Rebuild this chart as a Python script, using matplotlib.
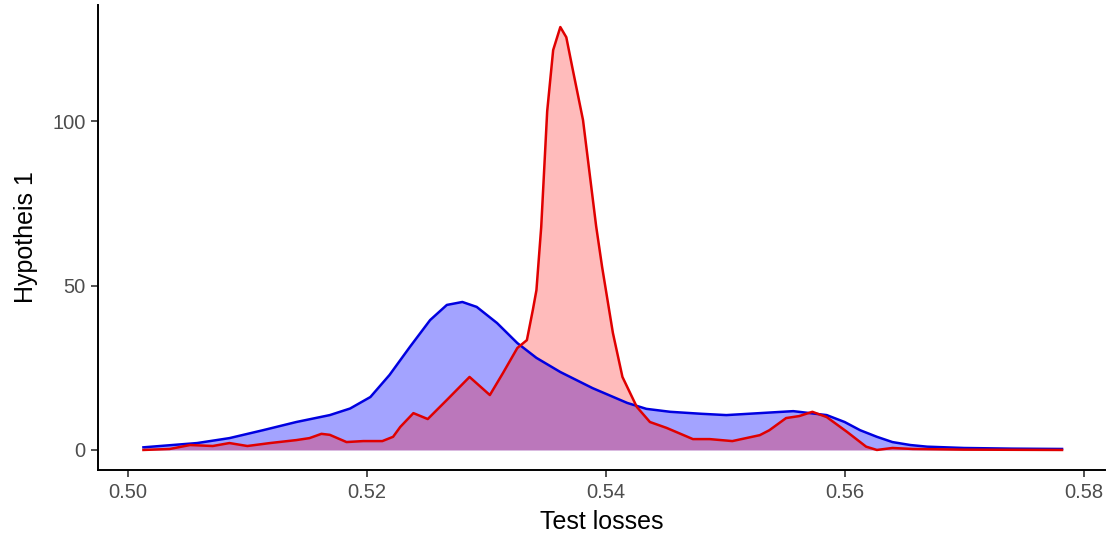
import matplotlib.pyplot as plt
import numpy as np

# density curves (x = test loss, y = density)
blue_x = [0.5013, 0.5058, 0.5085, 0.5113, 0.5141, 0.5169, 0.5186, 0.5203, 0.5219,
          0.5236, 0.5253, 0.5267, 0.5280, 0.5292, 0.5309, 0.5326, 0.5342, 0.5362,
          0.5389, 0.5418, 0.5434, 0.5454, 0.5480, 0.5501, 0.5529, 0.5557, 0.5585,
          0.5600, 0.5613, 0.5627, 0.5640, 0.5655, 0.5669, 0.5700, 0.5740, 0.5782]
blue_y = [0.8, 2.1, 3.6, 6.0, 8.5, 10.6, 12.6, 16.1, 22.8,
          31.3, 39.5, 44.1, 45.0, 43.5, 38.6, 32.5, 28.0, 23.7,
          18.8, 14.3, 12.5, 11.6, 11.0, 10.6, 11.2, 11.8, 10.6,
          8.5, 6.0, 4.0, 2.4, 1.5, 1.0, 0.6, 0.4, 0.3]

red_x = [0.5013, 0.5035, 0.5052, 0.5071, 0.5085, 0.5100, 0.5119, 0.5141, 0.5152,
         0.5162, 0.5169, 0.5183, 0.5197, 0.5213, 0.5222, 0.5228, 0.5239, 0.5251,
         0.5267, 0.5286, 0.5303, 0.5314, 0.5326, 0.5334, 0.5339, 0.5342, 0.5346,
         0.5351, 0.5356, 0.5362, 0.5367, 0.5372, 0.5381, 0.5392, 0.5397, 0.5406,
         0.5414, 0.5426, 0.5437, 0.5451, 0.5473, 0.5487, 0.5506, 0.5529, 0.5537,
         0.5551, 0.5562, 0.5573, 0.5585, 0.5602, 0.5618, 0.5627, 0.5640, 0.5657,
         0.5700, 0.5782]
red_y = [0.0, 0.3, 1.5, 1.2, 2.1, 1.2, 2.1, 3.0, 3.6,
         4.9, 4.6, 2.4, 2.7, 2.7, 4.0, 7.0, 11.2, 9.4,
         15.2, 22.2, 16.7, 23.4, 31.0, 33.4, 42.6, 48.6, 67.8,
         103.0, 121.6, 128.6, 125.5, 116.4, 100.3, 68.0, 55.6, 35.6,
         22.2, 13.1, 8.5, 6.7, 3.3, 3.3, 2.7, 4.5, 6.0,
         9.7, 10.3, 11.6, 10.0, 5.5, 1.0, 0.0, 0.6, 0.3,
         0.1, 0.0]

x_ticks = [0.50, 0.52, 0.54, 0.56, 0.58]
y_ticks = [0, 50, 100]

plt.rcParams['font.family'] = ['Liberation Sans', 'DejaVu Sans']

fig = plt.figure(figsize=(11.18, 5.40), dpi=100)
ax = fig.add_axes([0.0877, 0.1296, 0.9007, 0.8611])

ax.fill_between(blue_x, blue_y, color='blue', alpha=0.36, lw=0)
ax.plot(blue_x, blue_y, color='#0000e0', lw=1.8, solid_joinstyle='round')
ax.fill_between(red_x, red_y, color='red', alpha=0.265, lw=0)
ax.plot(red_x, red_y, color='#e00000', lw=1.8, solid_joinstyle='round')

ax.set_xlim(0.4975, 0.5818)
ax.set_ylim(-6.1, 135.3)
ax.set_xticks(x_ticks)
ax.set_xticklabels(['%.2f' % v for v in x_ticks])
ax.set_yticks(y_ticks)

for s in ['top', 'right']:
    ax.spines[s].set_visible(False)
for s in ['left', 'bottom']:
    ax.spines[s].set_linewidth(1.4)
    ax.spines[s].set_color('black')
ax.tick_params(length=5, width=1.2, color='#333333', labelsize=14.5,
               labelcolor='#4d4d4d', pad=4)

ax.set_xlabel('Test losses', fontsize=18, color='black', labelpad=6)
ax.set_ylabel('Hypotheis 1', fontsize=18, color='black', labelpad=10)

fig.savefig('out.png', dpi=100)
